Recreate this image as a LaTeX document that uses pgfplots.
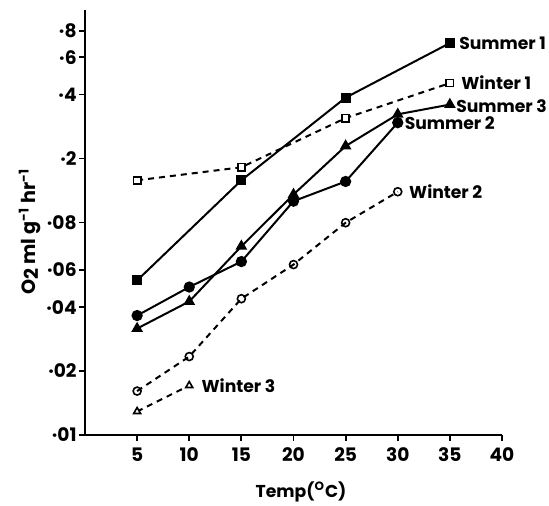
\documentclass[border=0pt]{standalone}
\usepackage{fontspec}
\setmainfont{Poppins}
\usepackage{pgfplots}
\pgfplotsset{compat=1.18}

\begin{document}
\begin{tikzpicture}[font=\fontsize{8.6}{10}\selectfont\bfseries]
    \begin{axis}[
            name = ax,
            scale only axis,
            width = 208.5pt,
            height = 212.5pt,
            xmin = 0, xmax = 40,
            ymode = log,
            ymin = 0.01, ymax = 1,
            axis lines = left,
            axis line style = {-, line width=1.3pt},
            tick align = outside,
            major tick length = 3pt,
            tick style = {black, line width=0.9pt},
            xtick = {5,10,...,40},
            /pgf/number format/assume math mode=true,
            ytick = {0.01,0.02,0.04,0.06,0.1,0.2,0.4,0.6,0.8},
            yticklabels = {·01,·02,·04,·06,·08,·2,·4,·6,·8},
            minor ytick = {},
            yticklabel style = {inner sep=1pt},
            xticklabel style = {font=\fontsize{9.3}{11}\selectfont\bfseries},
            yticklabel style = {font=\fontsize{9.3}{11}\selectfont\bfseries},
            xlabel = {Temp(\textsuperscript{O}C)},
            xlabel style = {at={(axis description cs:0.518,0)}, anchor=center, yshift=-28.5pt},
            ylabel = {O{\raisebox{-0.25ex}{2}} ml g\textsuperscript{-1} hr\textsuperscript{-1}},
            ylabel style = {at={(axis description cs:-0.132,0.478)}, anchor=center,
                            font=\fontsize{9.6}{11}\selectfont\bfseries},
            clip = false,
            every axis plot/.append style = {black, line width=1pt},
        ]
        % Summer 1
        \addplot [mark=square*, mark size=2pt, mark options={solid}]
            coordinates {(5,0.0534) (15,0.158) (25,0.387) (35,0.699)};
        % Winter 1
        \addplot [dashed, dash pattern=on 3pt off 2.5pt, mark=square*, mark size=1.8pt,
                  mark options={solid, fill=white, line width=0.8pt}]
            coordinates {(5,0.158) (15,0.182) (25,0.310) (35,0.453)};
        % Summer 3
        \addplot [mark=triangle*, mark size=2.4pt, mark options={solid}]
            coordinates {(5,0.0317) (10,0.0425) (15,0.0773) (20,0.1355) (25,0.229) (30,0.323) (35,0.359)};
        % Summer 2
        \addplot [mark=*, mark size=2.3pt, mark options={solid}]
            coordinates {(5,0.0365) (10,0.0497) (15,0.0655) (20,0.126) (25,0.156) (30,0.295)};
        % Winter 2
        \addplot [dashed, dash pattern=on 3pt off 2.5pt, mark=o, mark size=2pt,
                  mark options={solid, fill=white, line width=0.8pt}]
            coordinates {(5,0.0161) (10,0.0234) (15,0.0438) (20,0.0634) (25,0.0998) (30,0.1396)};
        % Winter 3
        \addplot [dashed, dash pattern=on 3pt off 2.5pt, mark=triangle*, mark size=2pt,
                  mark options={solid, fill=white, line width=0.8pt}]
            coordinates {(5,0.0129) (10,0.0171)};

        \node [anchor=west, inner sep=0pt, xshift=4.5pt] at (axis cs:35,0.699) {Summer 1};
        \node [anchor=west, inner sep=0pt, xshift=5.5pt] at (axis cs:35,0.453) {Winter 1};
        \node [anchor=west, inner sep=0pt, xshift=3pt, yshift=-0.8pt] at (axis cs:35,0.359) {Summer 3};
        \node [anchor=west, inner sep=0pt, xshift=3.3pt] at (axis cs:30,0.295) {Summer 2};
        \node [anchor=west, inner sep=0pt, xshift=5.5pt] at (axis cs:30,0.1396) {Winter 2};
        \node [anchor=west, inner sep=0pt, xshift=6pt] at (axis cs:10,0.0171) {Winter 3};
    \end{axis}
    \pgfresetboundingbox
    \path [use as bounding box] (ax.south west) ++(-42.5pt,-35pt) rectangle ++(274.5pt,252.5pt);
\end{tikzpicture}
\end{document}
